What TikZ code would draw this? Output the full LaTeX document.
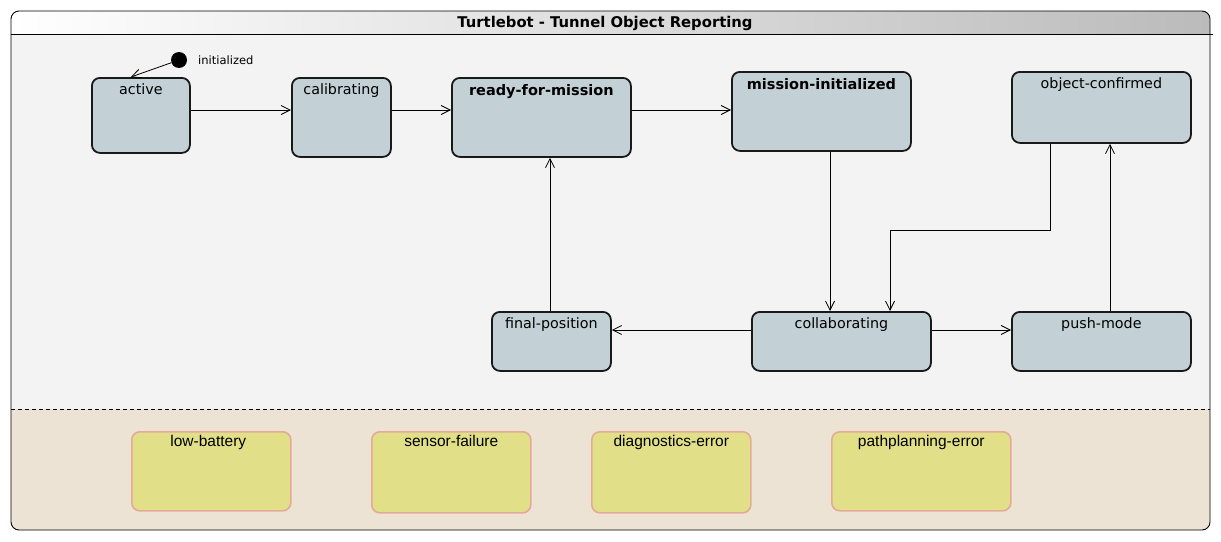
\documentclass[tikz,border=0pt]{standalone}
\usepackage{fontspec}
\setmainfont{DejaVu Sans}
\newfontfamily\libsans{Liberation Sans}
\usetikzlibrary{arrows.meta}
\definecolor{stgray}{HTML}{C3D1D6}
\definecolor{errfill}{HTML}{E1E088}
\definecolor{errdraw}{HTML}{E4A998}
\definecolor{lowbg}{HTML}{EDE3D4}
\definecolor{upbg}{HTML}{F3F3F3}
\definecolor{titlegray}{HTML}{BBBBBB}
\tikzset{
  stbox/.style={draw=black!90, line width=1.8pt, fill=stgray, rounded corners=8pt, anchor=north west, inner sep=0pt},
  errbox/.style={draw=errdraw, line width=1.6pt, fill=errfill, rounded corners=8pt, anchor=north west, inner sep=0pt},
  stlbl/.style={anchor=base, yshift=-17pt, inner sep=0pt, font=\fontsize{14.3}{16}\selectfont},
  boldlbl/.style={anchor=base, yshift=-18.5pt, inner sep=0pt, font=\fontsize{14.5}{16}\selectfont\bfseries},
  errlbl/.style={anchor=base, yshift=-15.7pt, inner sep=0pt, font=\libsans\fontsize{15.5}{17}\selectfont},
  arr/.style={-{Straight Barb[length=9pt,width=9pt]}, line width=0.8pt},
}
\begin{document}
\begin{tikzpicture}[x=1pt,y=-1pt]
\useasboundingbox (0,0) rectangle (1221,541);
% frame
\fill[lowbg, rounded corners=8pt] (11,11) rectangle (1210,530);
\fill[upbg] (11,34) rectangle (1210,409);
\shade[left color=white, right color=titlegray, rounded corners=8pt] (11,11) rectangle (1210,34);
\shade[left color=white, right color=titlegray] (11,24) rectangle (1210,34);
\draw[line width=0.9pt, rounded corners=8pt] (11,11) rectangle (1210,530);
\draw[line width=0.9pt] (11,34) -- (1213,34);
\draw[line width=0.8pt, dashed, dash pattern=on 4pt off 3pt] (11,409) -- (1210,409);
\node[inner sep=0pt, anchor=base, font=\fontsize{14.8}{16}\selectfont\bfseries] (title) at (605,27.5) {Turtlebot - Tunnel Object Reporting};
% states
\node[stbox, minimum width=98pt, minimum height=75pt, label={[stlbl]north:active}] (active) at (91,77) {};
\node[stbox, minimum width=99pt, minimum height=79pt, label={[stlbl]north:calibrating}] (calib) at (291,77) {};
\node[stbox, minimum width=179pt, minimum height=79pt, label={[boldlbl]north:ready-for-mission}] (ready) at (451,77) {};
\node[stbox, minimum width=179pt, minimum height=79pt, label={[boldlbl]north:mission-initialized}] (minit) at (731,71) {};
\node[stbox, minimum width=179pt, minimum height=71pt, label={[stlbl]north:object-confirmed}] (objc) at (1011,71) {};
\node[stbox, minimum width=119pt, minimum height=59pt, label={[stlbl]north:final-position}] (finalp) at (491,311) {};
\node[stbox, minimum width=179pt, minimum height=59pt, label={[stlbl]north:collaborating}] (collab) at (751,311) {};
\node[stbox, minimum width=179pt, minimum height=59pt, label={[stlbl]north:push-mode}] (push) at (1011,311) {};
% error states
\node[errbox, minimum width=159pt, minimum height=79pt, label={[errlbl, xshift=-3pt]north:low-battery}] (lowbat) at (131,431) {};
\node[errbox, minimum width=159pt, minimum height=81pt, label={[errlbl]north:sensor-failure}] (sensf) at (371,431) {};
\node[errbox, minimum width=159pt, minimum height=81pt, label={[errlbl]north:diagnostics-error}] (diag) at (591,431) {};
\node[errbox, minimum width=179pt, minimum height=79pt, label={[errlbl]north:pathplanning-error}] (pathp) at (831,431) {};
% initial
\node[circle, fill=black, minimum size=16pt, inner sep=0pt] (init) at (179,60) {};
\node[anchor=west, inner sep=0pt, font=\fontsize{11.5}{13}\selectfont] (initlbl) at (198,60) {initialized};
% transitions
\draw[arr] (init) -- ([xshift=-10pt]active.north);
\draw[arr] (active.east |- 0,110) -- (calib.west |- 0,110);
\draw[arr] (calib.east |- 0,110) -- (ready.west |- 0,110);
\draw[arr] (ready.east |- 0,110) -- (minit.west |- 0,110);
\draw[arr] (830,0 |- minit.south) -- (830,0 |- collab.north);
\draw[arr] (1050,0 |- objc.south) -- (1050,230) -- (890,230) -- (890,0 |- collab.north);
\draw[arr] (1110,0 |- push.north) -- (1110,0 |- objc.south);
\draw[arr] (collab.west |- 0,330) -- (finalp.east |- 0,330);
\draw[arr] (collab.east |- 0,330) -- (push.west |- 0,330);
\draw[arr] (550,0 |- finalp.north) -- (550,0 |- ready.south);
\end{tikzpicture}
\end{document}
